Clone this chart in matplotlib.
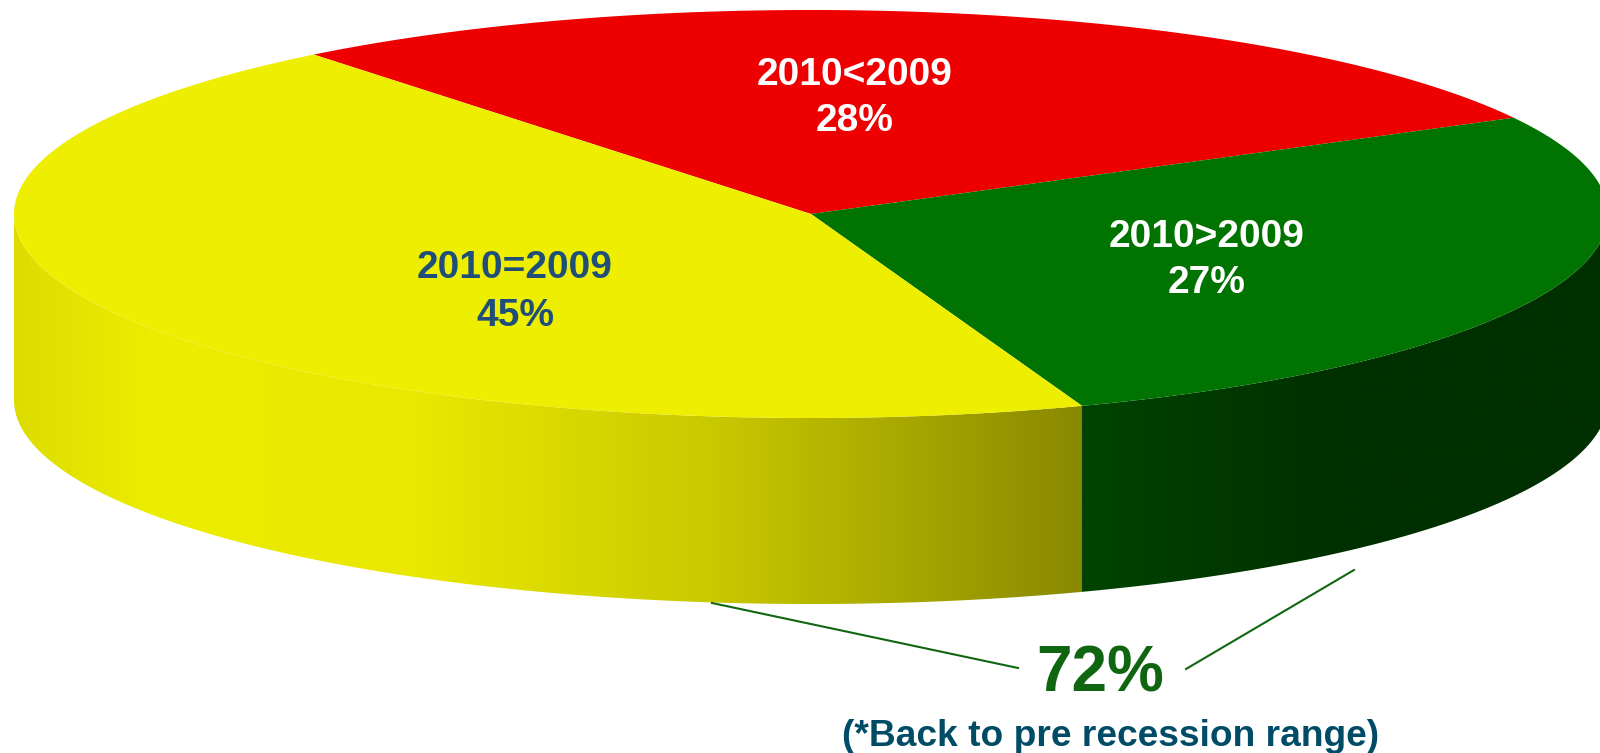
import matplotlib
matplotlib.use("Agg")
import matplotlib.pyplot as plt
import numpy as np
from matplotlib.colors import LinearSegmentedColormap
from matplotlib.patches import Polygon

plt.rcParams["font.family"] = ["Liberation Sans", "DejaVu Sans"]

labels = ["2010<2009", "2010>2009", "2010=2009"]
share_labels = ["28%", "27%", "45%"]
# slice sizes as measured on the picture, in percent of the full turn
slice_sizes = [27.9, 27.3, 44.8]
summary_value = "72%"
summary_note = "(*Back to pre recession range)"

top_colors = ["#EE0000", "#007300", "#EEEE00"]
text_colors = ["white", "white", "#1F4E79"]
label_pos = [(855, 75, 121), (1207, 237, 283), (515, 268, 316)]

# pie geometry in image pixels
CX, CY, A, B, DEPTH = 811, 214, 797, 204, 186
START = 128.6


def rim(t0, t1, n=200):
    t = np.radians(np.linspace(t0, t1, n))
    return CX + A * np.cos(t), CY - B * np.sin(t)


fig = plt.figure(figsize=(16, 7.53), dpi=100)
ax = fig.add_axes([0, 0, 1, 1])
ax.set_xlim(0, 1600)
ax.set_ylim(753, 0)
ax.axis("off")

ends = START - np.cumsum(slice_sizes) * 3.6
starts = np.r_[START, ends[:-1]]
split = starts[2]

yellow_side = LinearSegmentedColormap.from_list(
    "yellow_side",
    [(0, "#DCDC00"), (0.13, "#EDED00"), (0.38, "#E8E800"), (0.66, "#C8C800"), (1, "#8A8800")],
)
green_side = LinearSegmentedColormap.from_list(
    "green_side", [(0, "#004400"), (0.5, "#002F00"), (1, "#002F00")]
)

# visible side wall: yellow from the left edge to the split, green to the right edge
for t0, t1, cmap in [(-180, split, yellow_side), (split, 0, green_side)]:
    x, y = rim(t0, t1)
    pts = np.r_[np.c_[x, y], np.c_[x[::-1], y[::-1] + DEPTH]]
    clip = Polygon(pts, closed=True, transform=ax.transData, fc="none", ec="none")
    ax.add_patch(clip)
    im = ax.imshow(
        np.linspace(0, 1, 512)[None, :],
        cmap=cmap,
        extent=[x.min(), x.max(), y.max() + DEPTH, y.min()],
        aspect="auto",
        zorder=1,
    )
    im.set_clip_path(clip)
ax.set_xlim(0, 1600)
ax.set_ylim(753, 0)

# top face
for t0, t1, color in zip(starts, ends, top_colors):
    x, y = rim(t0, t1)
    ax.fill(np.r_[CX, x], np.r_[CY, y], color=color, lw=0, zorder=2)

for label, share, color, (tx, y1, y2) in zip(labels, share_labels, text_colors, label_pos):
    ax.text(tx, y1, label, color=color, fontsize=28, fontweight="bold", ha="center", va="center", zorder=3)
    ax.text(tx, y2, share, color=color, fontsize=28, fontweight="bold", ha="center", va="center", zorder=3)

ax.plot([712, 1018], [603, 668], color="#106610", lw=1.5, zorder=3)
ax.plot([1186, 1354], [669, 570], color="#106610", lw=1.5, zorder=3)
ax.text(1100, 675, summary_value, color="#106610", fontsize=46, fontweight="bold", ha="center", va="center")
ax.text(1111, 736, summary_note, color="#004C66", fontsize=26.7, fontweight="bold", ha="center", va="center")

fig.savefig("out.png", dpi=100)
